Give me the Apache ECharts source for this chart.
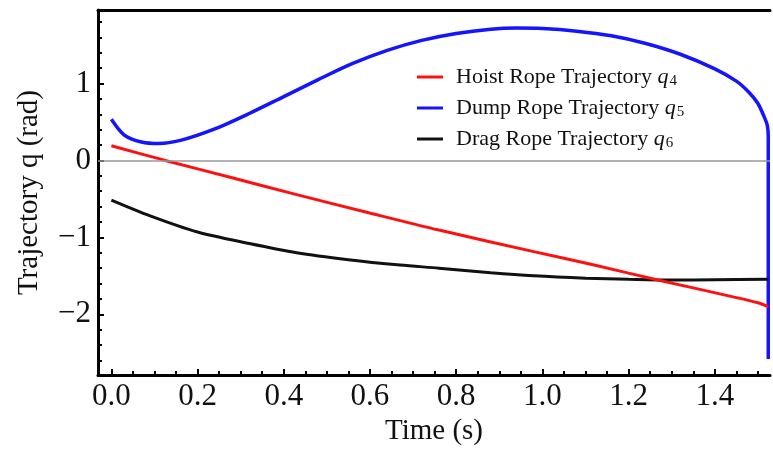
<!DOCTYPE html>
<html>
<head>
<meta charset="utf-8">
<script src="https://cdn.jsdelivr.net/npm/echarts@6/dist/echarts.min.js"></script>
<style>
  html, body { margin: 0; padding: 0; background: #fff; }
  #main { width: 773px; height: 451px; }
</style>
</head>
<body>
<div id="main"></div>
<script>
// values (time in s, trajectory in rad)
const hoistT = [0, 0.125, 0.28, 0.43, 0.59, 0.76, 0.98, 1.12, 1.265, 1.44, 1.5, 1.524];
const hoistQ = [0.19, 0.0, -0.225, -0.445, -0.67, -0.905, -1.185, -1.36, -1.55, -1.77, -1.85, -1.9];

const dumpT = [0, 0.03, 0.07, 0.11, 0.16, 0.24, 0.32, 0.4, 0.48, 0.56, 0.64, 0.72, 0.8, 0.88, 0.94,
  1.0, 1.08, 1.16, 1.24, 1.32, 1.4, 1.45, 1.48, 1.5, 1.515, 1.522, 1.524, 1.524];
const dumpQ = [0.535, 0.33, 0.24, 0.22, 0.26, 0.41, 0.61, 0.83, 1.05, 1.26, 1.43, 1.56, 1.65, 1.705, 1.72,
  1.715, 1.68, 1.62, 1.52, 1.38, 1.19, 1.03, 0.88, 0.74, 0.56, 0.45, 0.3, -2.58];

const dragT = [0, 0.09, 0.2, 0.32, 0.43, 0.55, 0.67, 0.76, 0.88, 0.98, 1.1, 1.2, 1.3, 1.4, 1.524];
const dragQ = [-0.515, -0.72, -0.93, -1.08, -1.2, -1.29, -1.36, -1.4, -1.46, -1.5, -1.53, -1.545, -1.555, -1.55, -1.545];

const xMajor = [0, 0.2, 0.4, 0.6, 0.8, 1.0, 1.2, 1.4];
const xMinor = [0.05, 0.1, 0.15, 0.25, 0.3, 0.35, 0.45, 0.5, 0.55, 0.65, 0.7, 0.75,
  0.85, 0.9, 0.95, 1.05, 1.1, 1.15, 1.25, 1.3, 1.35, 1.45, 1.5];
const yMajor = [-2, -1, 0, 1];
const yMinor = [-2.6, -2.4, -2.2, -1.8, -1.6, -1.4, -1.2, -0.8, -0.6, -0.4, -0.2,
  0.2, 0.4, 0.6, 0.8, 1.2, 1.4, 1.6, 1.8];

const legendNames = ['Hoist Rope Trajectory', 'Dump Rope Trajectory', 'Drag Rope Trajectory'];
const legendSubs = ['4', '5', '6'];

const font = 'Liberation Serif';
const X_MIN = -0.031, X_MAX = 1.528, Y_MIN = -2.79, Y_MAX = 1.955;

function pairs(xs, ys) {
  return xs.map((x, i) => [x, ys[i]]);
}

function minus(v) {
  return String(v).replace('-', '\u2212');
}

const myChart = echarts.init(document.getElementById('main'));
myChart.setOption({
  animation: false,
  backgroundColor: '#fff',
  grid: { left: 98, right: 3, top: 10, bottom: 74 },
  legend: {
    orient: 'vertical',
    left: 412,
    top: 61,
    itemWidth: 26,
    itemHeight: 3,
    itemGap: 8,
    icon: 'rect',
    data: legendNames,
    formatter: function (name) {
      const i = legendNames.indexOf(name);
      return '{a|' + name + ' }{q|q}{s|' + legendSubs[i] + '}';
    },
    textStyle: {
      rich: {
        a: { fontFamily: font, fontSize: 22, color: '#111', padding: [0, 0, 0, 8] },
        q: { fontFamily: font, fontSize: 22, fontStyle: 'italic', color: '#111' },
        s: { fontFamily: font, fontSize: 15, color: '#111', padding: [9, 0, 0, 1] }
      }
    }
  },
  xAxis: [
    {
      type: 'value', position: 'bottom', min: X_MIN, max: X_MAX,
      axisLine: { onZero: false, lineStyle: { color: '#000', width: 3 } },
      axisTick: { inside: true, length: 6, customValues: xMajor, lineStyle: { color: '#000', width: 2 } },
      axisLabel: {
        customValues: xMajor, margin: 6, color: '#111', fontFamily: font, fontSize: 31,
        formatter: v => v.toFixed(1)
      },
      splitLine: { show: false },
      name: 'Time (s)', nameLocation: 'middle', nameGap: 41,
      nameTextStyle: { fontFamily: font, fontSize: 29, color: '#111' }
    },
    {
      type: 'value', position: 'bottom', min: X_MIN, max: X_MAX,
      axisLine: { show: false, onZero: false },
      axisTick: { inside: true, length: 4, customValues: xMinor, lineStyle: { color: '#000', width: 2 } },
      axisLabel: { show: false },
      splitLine: { show: false }
    },
    {
      type: 'value', position: 'top', min: X_MIN, max: X_MAX,
      axisLine: { onZero: false, lineStyle: { color: '#000', width: 3 } },
      axisTick: { show: false },
      axisLabel: { show: false },
      splitLine: { show: false }
    }
  ],
  yAxis: [
    {
      type: 'value', position: 'left', min: Y_MIN, max: Y_MAX,
      axisLine: { onZero: false, lineStyle: { color: '#000', width: 3 } },
      axisTick: { inside: true, length: 6, customValues: yMajor, lineStyle: { color: '#000', width: 2 } },
      axisLabel: {
        customValues: yMajor, margin: 7, color: '#111', fontFamily: font, fontSize: 31,
        formatter: v => minus(v)
      },
      splitLine: { show: false },
      name: 'Trajectory q (rad)', nameLocation: 'middle', nameGap: 54,
      nameTextStyle: { fontFamily: font, fontSize: 29, color: '#111' }
    },
    {
      type: 'value', position: 'left', offset: 0, min: Y_MIN, max: Y_MAX,
      axisLine: { show: false, onZero: false },
      axisTick: { inside: true, length: 4, customValues: yMinor, lineStyle: { color: '#000', width: 2 } },
      axisLabel: { show: false },
      splitLine: { show: false }
    }
  ],
  series: [
    {
      name: legendNames[0], type: 'line', data: pairs(hoistT, hoistQ),
      smooth: 0.3, showSymbol: false, color: '#ff1010',
      lineStyle: { width: 3 },
      markLine: {
        silent: true, symbol: 'none', label: { show: false },
        lineStyle: { color: '#999', width: 1.5, type: 'solid' },
        data: [{ yAxis: 0 }]
      },
      z: 3
    },
    {
      name: legendNames[1], type: 'line', data: pairs(dumpT, dumpQ),
      smooth: 0.3, showSymbol: false, color: '#1414ff',
      lineStyle: { width: 3.5 }, z: 2
    },
    {
      name: legendNames[2], type: 'line', data: pairs(dragT, dragQ),
      smooth: 0.3, showSymbol: false, color: '#111',
      lineStyle: { width: 3 }, z: 2
    }
  ]
});
</script>
</body>
</html>
